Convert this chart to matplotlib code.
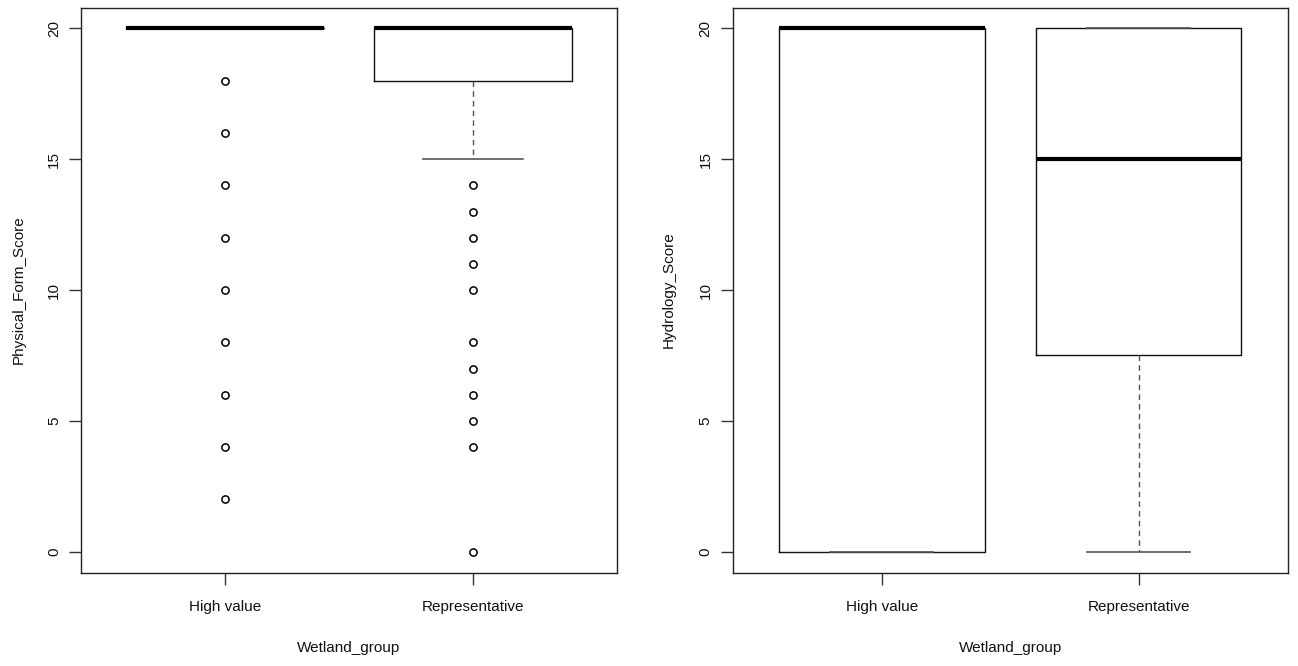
import matplotlib
matplotlib.use("Agg")
import matplotlib.pyplot as plt

plt.rcParams['font.family'] = ['Liberation Sans', 'DejaVu Sans']

categories = ["High value", "Representative"]
x_label = "Wetland_group"

# Panel 1: Physical_Form_Score
pf_label = "Physical_Form_Score"
pf_q1 = [20, 18]
pf_med = [20, 20]
pf_q3 = [20, 20]
pf_whislo = [20, 15]
pf_whishi = [20, 20]
pf_fliers = [
    [18, 16, 14, 12, 10, 8, 6, 4, 2],
    [14, 13, 12, 11, 10, 8, 7, 6, 5, 4, 0],
]

# Panel 2: Hydrology_Score
hy_label = "Hydrology_Score"
hy_q1 = [0, 7.5]
hy_med = [20, 15]
hy_q3 = [20, 20]
hy_whislo = [0, 0]
hy_whishi = [20, 20]
hy_fliers = [[], []]

yticks = [0, 5, 10, 15, 20]

W, H = 1298, 666
fig = plt.figure(figsize=(W / 100, H / 100), dpi=100)

ax1 = fig.add_axes([81.3 / W, 1 - 572.6 / H, 535.4 / W, 565.1 / H])
ax2 = fig.add_axes([732.7 / W, 1 - 572.6 / H, 555.0 / W, 565.1 / H])


def make_stats(q1, med, q3, lo, hi, fl):
    out = []
    for i in range(len(q1)):
        out.append(dict(q1=q1[i], med=med[i], q3=q3[i], whislo=lo[i], whishi=hi[i],
                        fliers=fl[i], label=categories[i]))
    return out


def draw(ax, stats, ylabel, ylab_x, axw):
    ax.bxp(stats, positions=[1, 2], widths=0.8, capwidths=0.4,
           showfliers=True, patch_artist=False,
           boxprops=dict(color='#111111', linewidth=1.0),
           medianprops=dict(color='black', linewidth=3.0, solid_capstyle='butt'),
           whiskerprops=dict(color='#555555', linewidth=1.0, linestyle=(0, (4, 3))),
           capprops=dict(color='#555555', linewidth=1.2),
           flierprops=dict(marker='o', markerfacecolor='none', markeredgecolor='black',
                           markersize=5.2, markeredgewidth=1.1, linestyle='none'))
    ax.set_xlim(0.42, 2.58)
    ax.set_ylim(-0.8, 20.8)
    ax.set_yticks(yticks)
    ax.set_yticklabels([str(v) for v in yticks], rotation=90, va='center')
    ax.set_xticks([1, 2])
    ax.set_xticklabels(categories)
    ax.tick_params(axis='both', direction='out', length=8.5, width=1.0, color='#333333',
                   labelsize=11, colors='#111111')
    ax.tick_params(axis='x', pad=11.5)
    ax.tick_params(axis='y', pad=6)
    for s in ax.spines.values():
        s.set_color('#222222')
        s.set_linewidth(1.0)
    ax.set_xlabel(x_label, fontsize=11, color='#111111', va='center')
    ax.set_ylabel(ylabel, fontsize=11, color='#111111', va='center')
    ax.xaxis.set_label_coords(0.5, (572.6 - 648.0) / 565.1)
    ax.yaxis.set_label_coords(ylab_x / axw, 0.5)


draw(ax1, make_stats(pf_q1, pf_med, pf_q3, pf_whislo, pf_whishi, pf_fliers), pf_label,
     19.0 - 81.3, 535.4)
draw(ax2, make_stats(hy_q1, hy_med, hy_q3, hy_whislo, hy_whishi, hy_fliers), hy_label,
     668.7 - 732.7, 555.0)

fig.savefig("out.png", dpi=100)
